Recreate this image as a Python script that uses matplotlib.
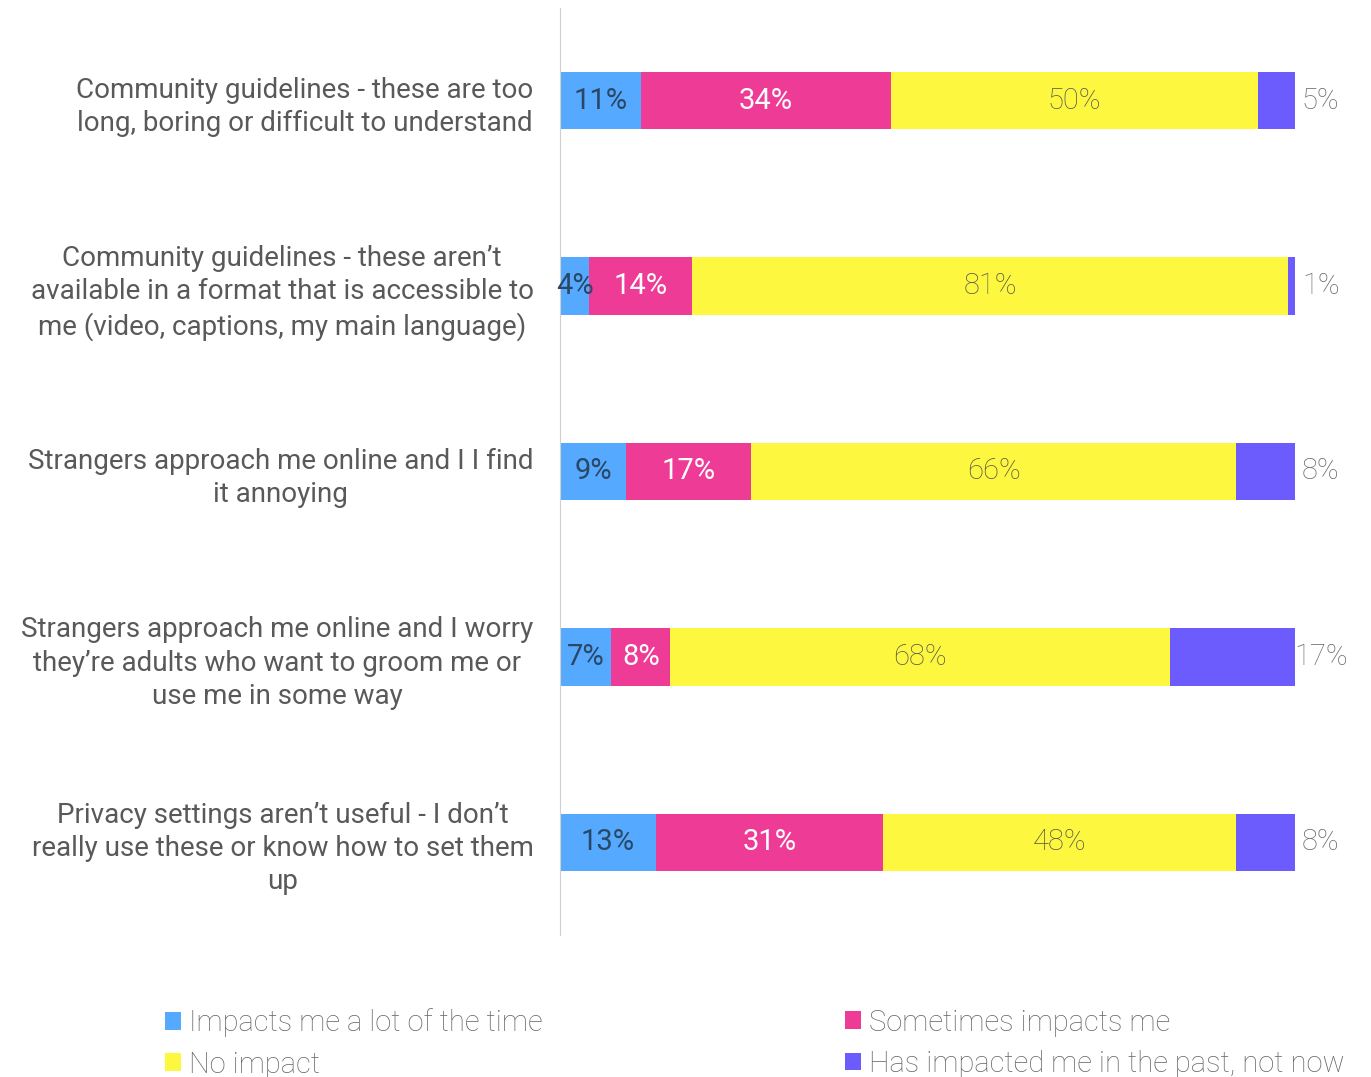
import matplotlib.pyplot as plt
import numpy as np

plt.rcParams['font.family'] = ['Roboto', 'DejaVu Sans']

# Survey items (top to bottom)
categories = [
    "Community guidelines - these are too\nlong, boring or difficult to understand",
    "Community guidelines - these aren't\navailable in a format that is accessible to\nme (video, captions, my main language)",
    "Strangers approach me online and I I find\nit annoying",
    "Strangers approach me online and I worry\nthey're adults who want to groom me or\nuse me in some way",
    "Privacy settings aren't useful - I don't\nreally use these or know how to set them\nup",
]
categories = [c.replace("'", "\u2019") for c in categories]

series_names = ["Impacts me a lot of the time", "Sometimes impacts me",
                "No impact", "Has impacted me in the past, not now"]
lot_of_time = [11, 4, 9, 7, 13]
sometimes = [34, 14, 17, 8, 31]
no_impact = [50, 81, 66, 68, 48]
in_past = [5, 1, 8, 17, 8]

colors = ['#55aaff', '#ee3c96', '#fdf73f', '#6c5cfd']
label_colors = ['#2a4766', 'white', '#5a5a4a', '#6a6a6a']
label_weights = ['normal', 'normal', 'light', 'light']

fig = plt.figure(figsize=(13.71, 10.77), dpi=100)
ax = fig.add_axes([560 / 1371, 1 - 935 / 1077, 735 / 1371, 927 / 1077])

y = np.arange(len(categories))
left = np.zeros(len(categories))
data = [lot_of_time, sometimes, no_impact, in_past]
bars = []
for k, (vals, col, name) in enumerate(zip(data, colors, series_names)):
    vals = np.array(vals, dtype=float)
    b = ax.barh(y, vals, left=left, height=0.31, color=col, label=name)
    bars.append(b)
    for i, v in enumerate(vals):
        # last segment: value sits outside the bar
        xpos = 103.5 if k == 3 else left[i] + v / 2
        ax.text(xpos, y[i], f"{int(v)}%", ha='center', va='center',
                fontsize=21, color=label_colors[k], fontweight=label_weights[k])
    left += vals

ax.set_xlim(0, 100)
ax.set_ylim(4.5, -0.5)
ax.set_xticks([])
ax.set_yticks(y)
ax.set_yticklabels(categories, fontsize=20, color='#595959',
                   multialignment='center', linespacing=1.3)
ax.tick_params(axis='y', length=0, pad=19)
for s in ['top', 'right', 'bottom']:
    ax.spines[s].set_visible(False)
ax.spines['left'].set_color('#d0d0d0')

# legend in two columns at the bottom
h = [b.patches[0] for b in bars]
kw = dict(frameon=False, handlelength=0.55, handleheight=0.55, borderpad=0,
          handletextpad=0.3, labelspacing=0.45, labelcolor='#686868',
          prop={'weight': 'light', 'size': 21})
fig.legend([h[0], h[2]], [series_names[0], series_names[2]],
           loc='upper left', bbox_to_anchor=(150 / 1371, 1 - 994 / 1077), **kw)
fig.legend([h[1], h[3]], [series_names[1], series_names[3]],
           loc='upper left', bbox_to_anchor=(830 / 1371, 1 - 994 / 1077), **kw)

fig.savefig('out.png', dpi=100, facecolor='white')
